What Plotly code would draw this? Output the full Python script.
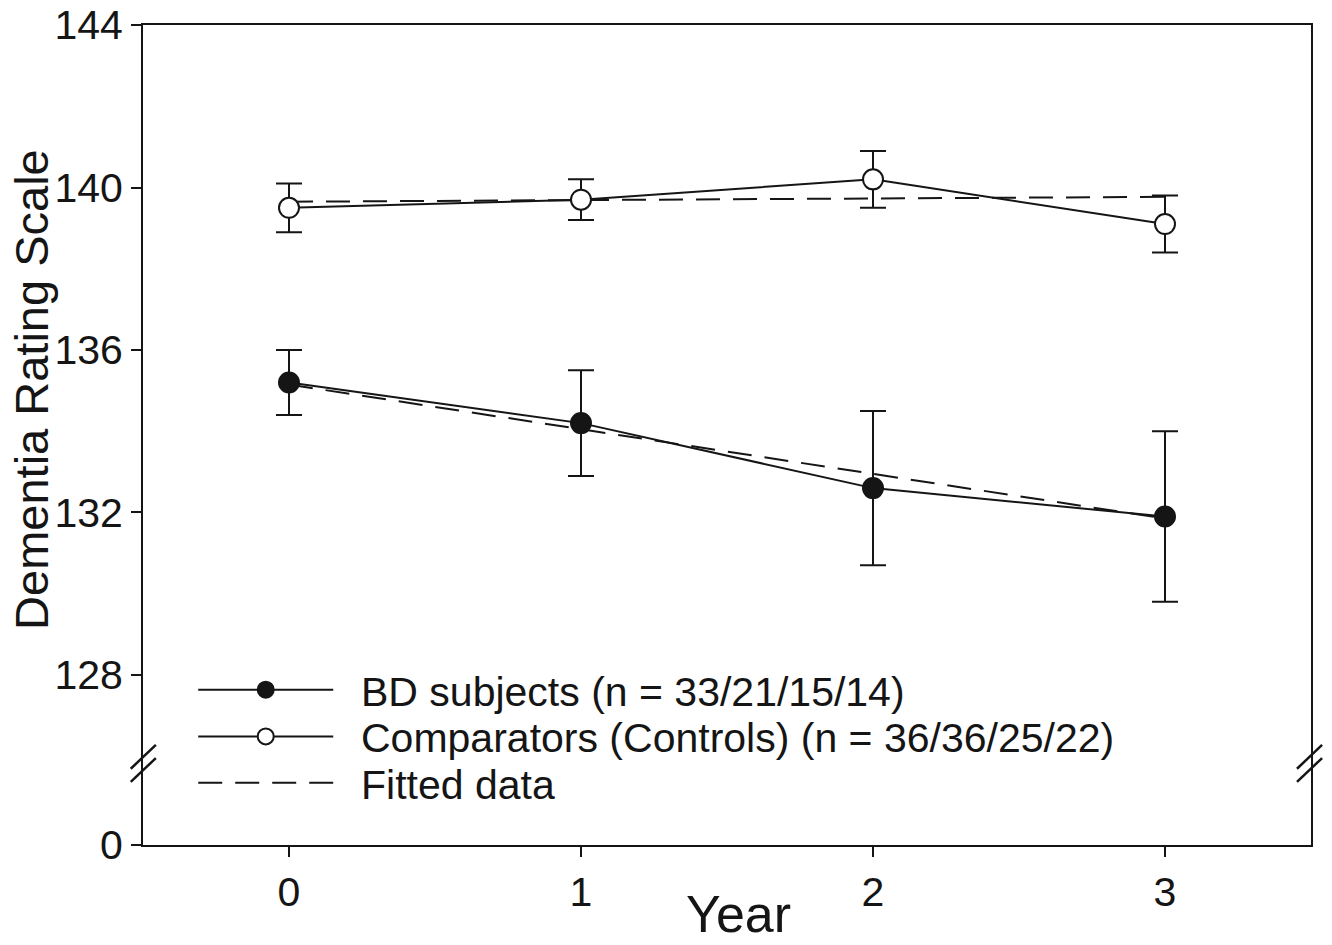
import plotly.graph_objects as go

years = [0, 1, 2, 3]
bd_mean = [135.2, 134.2, 132.6, 131.9]
bd_upper = [136.0, 135.5, 134.5, 134.0]
bd_lower = [134.4, 132.9, 130.7, 129.8]
ctl_mean = [139.5, 139.7, 140.2, 139.1]
ctl_upper = [140.1, 140.2, 140.9, 139.8]
ctl_lower = [138.9, 139.2, 139.5, 138.4]
bd_fit = [135.15, 134.05, 132.95, 131.85]
ctl_fit = [139.65, 139.69, 139.73, 139.77]

y_ticks = [128, 132, 136, 140, 144]
zero_pos = 123.815  # position standing for 0 below the axis break

FONT = "Liberation Sans, Arial, sans-serif"
INK = "#151515"
PAD = "\u00a0\u00a0"
DASH = "24px,13px"

def err(mean, up, lo):
    return dict(type="data", symmetric=False,
                array=[u - m for u, m in zip(up, mean)],
                arrayminus=[m - l for m, l in zip(mean, lo)],
                color=INK, thickness=2, width=13)

fig = go.Figure()
fig.add_trace(go.Scatter(x=years, y=bd_fit, mode="lines", name="Fitted data",
                         line=dict(color=INK, width=2, dash=DASH), showlegend=False))
fig.add_trace(go.Scatter(x=years, y=ctl_fit, mode="lines", name="Fitted data",
                         line=dict(color=INK, width=2, dash=DASH), showlegend=False))
fig.add_trace(go.Scatter(x=years, y=bd_mean, mode="lines+markers",
                         name=PAD + "BD subjects (n = 33/21/15/14)",
                         line=dict(color=INK, width=2),
                         marker=dict(size=20, color=INK, line=dict(color=INK, width=2)),
                         error_y=err(bd_mean, bd_upper, bd_lower), legend="legend"))
fig.add_trace(go.Scatter(x=years, y=ctl_mean, mode="lines+markers",
                         name=PAD + "Comparators (Controls) (n = 36/36/25/22)",
                         line=dict(color=INK, width=2),
                         marker=dict(size=20, color="white", line=dict(color=INK, width=2)),
                         error_y=err(ctl_mean, ctl_upper, ctl_lower), legend="legend2"))
# legend-only entry for fitted data
fig.add_trace(go.Scatter(x=[None], y=[None], mode="lines", name=PAD + "Fitted data",
                         line=dict(color=INK, width=2, dash=DASH), legend="legend3"))

shapes = []
# axis-break slashes (paper coords)
for x0, x1 in [(-0.0105, 0.011), (0.988, 1.0095)]:
    for y0, y1 in [(0.093, 0.122), (0.077, 0.106)]:
        shapes.append(dict(type="line", xref="paper", yref="paper",
                           x0=x0, x1=x1, y0=y0, y1=y1,
                           line=dict(color=INK, width=2.5)))

def leg(y):
    return dict(x=0.043, y=y, xanchor="left", yanchor="middle",
                bgcolor="rgba(0,0,0,0)", font=dict(size=41, family=FONT, color=INK),
                itemwidth=135)

fig.update_layout(
    width=1332, height=945,
    margin=dict(l=143, r=21, t=25, b=100, autoexpand=False),
    paper_bgcolor="white", plot_bgcolor="white",
    font=dict(family=FONT, size=40, color=INK),
    showlegend=True,
    legend=leg(0.189),
    legend2=leg(0.132),
    legend3=leg(0.0756),
    shapes=shapes,
    annotations=[
        dict(text="Dementia Rating Scale", xref="paper", yref="paper",
             x=-0.095, y=0.555, textangle=-90, showarrow=False,
             font=dict(size=47, family=FONT, color=INK),
             xanchor="center", yanchor="middle"),
        dict(text="Year", xref="paper", yref="paper",
             x=0.51, y=-0.122, showarrow=False,
             font=dict(size=52, family=FONT, color=INK),
             xanchor="center", yanchor="bottom"),
    ],
)
fig.update_xaxes(range=[-0.5, 3.5], tickvals=years, ticktext=[str(v) for v in years],
                 showline=True, linecolor=INK, linewidth=2, mirror=True,
                 ticks="outside", ticklen=10, tickwidth=2, tickcolor=INK,
                 showgrid=False, zeroline=False, tickfont=dict(size=41),
                 automargin=False)
fig.update_yaxes(range=[zero_pos, 144], tickvals=[zero_pos] + y_ticks,
                 ticktext=["0"] + [str(v) for v in y_ticks],
                 showline=True, linecolor=INK, linewidth=2, mirror=True,
                 ticks="outside", ticklen=10, tickwidth=2, tickcolor=INK,
                 showgrid=False, zeroline=False, tickfont=dict(size=41),
                 ticklabeloverflow="allow", automargin=False)

# remove the default 8px page margin so the figure fills the window exactly
fig.write_html("out.html", config={"displayModeBar": False},
               post_script="document.body.style.margin='0px';")
